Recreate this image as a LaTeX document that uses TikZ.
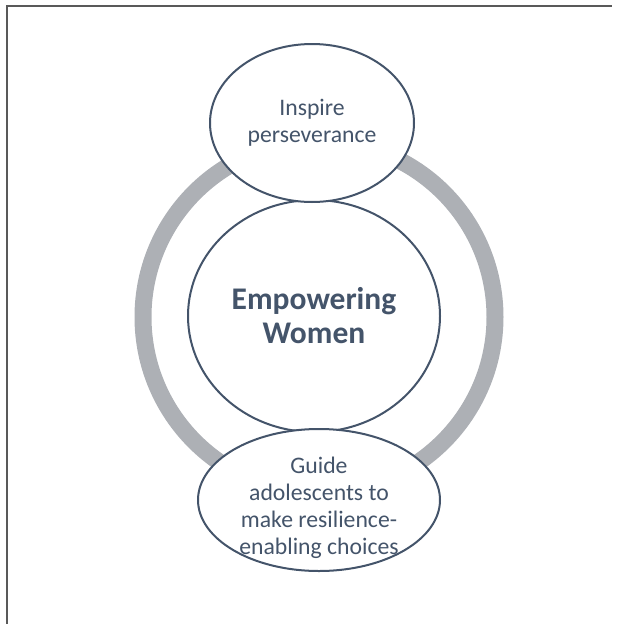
\documentclass[tikz,border=0pt]{standalone}
\usepackage{fontspec}
\setmainfont{Carlito}
\usetikzlibrary{positioning,shapes.geometric}
\definecolor{slate}{HTML}{44546A}
\definecolor{ringgray}{HTML}{ADB0B5}
\definecolor{framegray}{HTML}{595959}

\begin{document}
\begin{tikzpicture}[
  x=1pt, y=-1pt,
  words/.style={align=center, text=slate, inner sep=0pt, font=\fontsize{23.7}{27}\selectfont},
  bubble/.style={ellipse, draw=slate, line width=2pt, fill=white, words},
  core/.style={bubble, font=\bfseries\fontsize{31.5}{34}\selectfont},
  ring/.style={draw=ringgray, line width=17pt},
  frame/.style={draw=framegray, line width=2pt}
]
\useasboundingbox (0,0) rectangle (621,624);

% frame
\draw[frame] (7,624) -- (7,5.5) -- (612,5.5);

% ring behind the bubbles
\coordinate (mid) at (319,317);
\draw[ring] (mid) circle (176);

% nodes
\node[core, minimum width=252pt, minimum height=232pt] (women) at (314,316) {Empowering\\Women};
\node[bubble, minimum width=204pt, minimum height=158pt] (inspire) at (312,123) {Inspire\\perseverance};
\node[bubble, minimum width=242pt, minimum height=142pt] (guide) at (319,500) {};
\node[words] (guidetext) at ([yshift=-8pt]guide.center) {Guide\\adolescents to\\make resilience-\\enabling choices};

\end{tikzpicture}
\end{document}
